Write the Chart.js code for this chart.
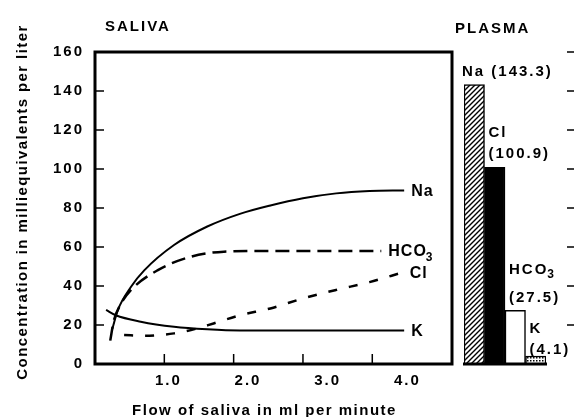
<!DOCTYPE html>
<html>
<head>
<meta charset="utf-8">
<style>
   html, body { margin: 0; padding: 0; background: #fff; }
   #wrap { position: relative; width: 574px; height: 417px; overflow: hidden; }
   #saliva { position: absolute; left: 0; top: 0; width: 460px; height: 417px; }
   #plasma { position: absolute; left: 455px; top: 0; width: 119px; height: 417px; }
</style>
</head>
<body>
<div id="wrap">
   <canvas id="saliva" width="460" height="417"></canvas>
   <canvas id="plasma" width="119" height="417"></canvas>
</div>
<script src="https://cdn.jsdelivr.net/npm/chart.js@4.4.0/dist/chart.umd.min.js"></script>
<script>
const FONT = '"Liberation Sans", Arial, Helvetica, sans-serif';

/* Saliva: concentration (mEq/l) against flow (ml/min) */
const naX = [0.25, 0.33, 0.52, 0.71, 1.14, 1.62, 2.09, 2.53, 3.0, 3.48, 3.96, 4.46];
const naY = [18, 27.7, 39.6, 48, 61, 70.5, 77, 81.3, 85, 87.5, 88.7, 89];

const hco3X = [0.22, 0.27, 0.36, 0.52, 0.9, 1.38, 1.86, 2.53, 3.2, 4.13];
const hco3Y = [12, 22, 30, 38, 48, 55, 57.6, 58, 58, 58];

const clX = [0.42, 0.71, 1.14, 1.45, 1.71, 2.09, 2.53, 3.0, 3.48, 3.96, 4.44];
const clY = [14.9, 14.5, 15.7, 18, 20.8, 25, 28.5, 33.6, 38, 42, 47];

const kX = [0.16, 0.3, 0.66, 1.14, 1.62, 2.09, 2.53, 3.5, 4.46];
const kY = [27.7, 25, 21.7, 19.1, 17.8, 17.2, 17.2, 17.2, 17.2];

const salivaNames = ['Na', 'HCO3', 'Cl', 'K'];

const yTickValues = [0, 20, 40, 60, 80, 100, 120, 140, 160];
const xTickValues = [1, 2, 3, 4];
const xTickLabels = ['1.0', '2.0', '3.0', '4.0'];

/* Plasma */
const plasmaIons = ['Na', 'Cl', 'HCO3', 'K'];
const plasmaValues = [143.3, 100.9, 27.5, 4.1];


function toPoints(xs, ys) {
   return xs.map((x, i) => ({x: x, y: ys[i]}));
}

// Ion name, a trailing digit is drawn as subscript (HCO3)
function drawIon(ctx, name, x, y, size) {
   var m = name.match(/^(.*?)(\d*)$/);
   ctx.font = `bold ${size}px ${FONT}`;
   ctx.fillText(m[1], x, y);
   if (m[2]) {
      var w = ctx.measureText(m[1]).width;
      ctx.font = `bold ${Math.round(size * 0.78)}px ${FONT}`;
      ctx.fillText(m[2], x + w - 1, y + size * 0.38);
   }
}

function makeHatch() {
   var c = document.createElement('canvas');
   c.width = 5; c.height = 5;
   var g = c.getContext('2d');
   g.fillStyle = '#fff';
   g.fillRect(0, 0, 5, 5);
   g.strokeStyle = '#000';
   g.lineWidth = 1.4;
   g.beginPath();
   g.moveTo(-1, 6); g.lineTo(6, -1);
   g.moveTo(-1, 1); g.lineTo(1, -1);
   g.moveTo(4, 6); g.lineTo(6, 4);
   g.stroke();
   return g.createPattern(c, 'repeat');
}

function makeDots() {
   var c = document.createElement('canvas');
   c.width = 3; c.height = 3;
   var g = c.getContext('2d');
   g.fillStyle = '#fff';
   g.fillRect(0, 0, 3, 3);
   g.fillStyle = '#000';
   g.fillRect(0, 0, 1.5, 1.5);
   return g.createPattern(c, 'repeat');
}

const salivaDecor = {
   id: 'salivaDecor',
   beforeDraw(chart) {
      // wide spacing of the original lettering, used by the tick labels too
      chart.ctx.letterSpacing = '2px';
   },
   afterDraw(chart) {
      var ctx = chart.ctx;
      var a = chart.chartArea;
      var xs = chart.scales.x, ys = chart.scales.y;
      ctx.save();
      ctx.strokeStyle = '#000';
      ctx.fillStyle = '#000';

      // frame
      ctx.lineWidth = 3;
      ctx.strokeRect(a.left, a.top, a.right - a.left, a.bottom - a.top);

      // inward tick marks
      ctx.lineWidth = 1.5;
      ctx.beginPath();
      yTickValues.forEach(v => {
         var py = ys.getPixelForValue(v);
         ctx.moveTo(a.left, py); ctx.lineTo(a.left + 9, py);
      });
      xTickValues.forEach(v => {
         var px = xs.getPixelForValue(v);
         ctx.moveTo(px, a.bottom); ctx.lineTo(px, a.bottom - 10);
      });
      ctx.stroke();

      // names at the end of each curve
      ctx.letterSpacing = '1px';
      ctx.textBaseline = 'middle';
      ctx.textAlign = 'left';
      chart.data.datasets.forEach((ds, i) => {
         var pts = chart.getDatasetMeta(i).data;
         var last = pts[pts.length - 1];
         drawIon(ctx, salivaNames[i], last.x + 7, last.y + 1, 16);
      });

      // title
      ctx.letterSpacing = '2px';
      ctx.font = `bold 15px ${FONT}`;
      ctx.fillText('SALIVA', a.left + 10, 27);

      // axis titles
      ctx.textAlign = 'center';
      ctx.textBaseline = 'alphabetic';
      ctx.letterSpacing = '1.5px';
      ctx.fillText('Flow of saliva in ml per minute', (a.left + a.right) / 2 - 9, 415);
      ctx.letterSpacing = '1.4px';
      ctx.translate(27, (a.top + a.bottom) / 2 - 6);
      ctx.rotate(-Math.PI / 2);
      ctx.fillText('Concentration in milliequivalents per liter', 0, 0);
      ctx.restore();
      ctx.letterSpacing = '0px';
   }
};

const plasmaDecor = {
   id: 'plasmaDecor',
   afterDraw(chart) {
      var ctx = chart.ctx;
      var a = chart.chartArea;
      var ys = chart.scales.y;
      ctx.save();
      ctx.strokeStyle = '#000';
      ctx.fillStyle = '#000';

      // base line under the bars
      ctx.lineWidth = 3;
      ctx.beginPath();
      ctx.moveTo(a.left - 1, a.bottom);
      ctx.lineTo(a.right + 1, a.bottom);
      ctx.stroke();

      // tick marks on the right edge
      ctx.lineWidth = 1.5;
      ctx.beginPath();
      yTickValues.filter(v => v > 0).forEach(v => {
         var py = ys.getPixelForValue(v);
         ctx.moveTo(chart.width - 7, py); ctx.lineTo(chart.width, py);
      });
      ctx.stroke();

      // labels of the bars
      ctx.letterSpacing = '2px';
      ctx.textBaseline = 'middle';
      ctx.textAlign = 'left';
      var bars = chart.getDatasetMeta(0).data;
      bars.forEach((bar, i) => {
         var left = bar.x - bar.width / 2;
         var value = '(' + plasmaValues[i].toFixed(1) + ')';
         if (i == 0) {
            ctx.font = `bold 15px ${FONT}`;
            ctx.fillText(plasmaIons[i] + ' ' + value, left - 2, bar.y - 13);
            return;
         }
         var valueY = (a.bottom - bar.y < 20) ? a.bottom - 14 : bar.y - 13;
         var nameY = valueY - 21 - (/\d$/.test(plasmaIons[i]) ? 7 : 0);
         drawIon(ctx, plasmaIons[i], left + 4, nameY, 15);
         ctx.font = `bold 15px ${FONT}`;
         ctx.fillText(value, left + 4, valueY);
      });

      // title
      ctx.font = `bold 15px ${FONT}`;
      ctx.fillText('PLASMA', 0, 29);
      ctx.restore();
      ctx.letterSpacing = '0px';
   }
};

const tickFont = {family: FONT, size: 15, weight: 'bold'};

new Chart(document.getElementById('saliva'), {
   type: 'line',
   data: {
      datasets: [
         {label: 'Na', data: toPoints(naX, naY), borderColor: '#000', borderWidth: 2},
         {label: 'HCO3', data: toPoints(hco3X, hco3Y), borderColor: '#000', borderWidth: 2.5, borderDash: [14, 7]},
         {label: 'Cl', data: toPoints(clX, clY), borderColor: '#000', borderWidth: 2.5, borderDash: [9, 12]},
         {label: 'K', data: toPoints(kX, kY), borderColor: '#000', borderWidth: 2}
      ]
   },
   options: {
      responsive: false,
      animation: false,
      events: [],
      elements: {
         point: {radius: 0},
         line: {cubicInterpolationMode: 'monotone', fill: false}
      },
      layout: {padding: {top: 52, right: 8, left: 0, bottom: 0}},
      plugins: {legend: {display: false}, tooltip: {enabled: false}},
      scales: {
         // data axis, its labels are drawn by the axis below
         x: {
            type: 'linear',
            min: 0,
            max: 5.15,
            grid: {display: false, drawTicks: false},
            border: {display: false},
            ticks: {display: false},
            afterFit: s => { s.height = 0; }
         },
         // in the printed figure the labels drift right of their tick marks
         xLabels: {
            type: 'linear',
            position: 'bottom',
            min: 0.08,
            max: 4.56,
            grid: {display: false, drawTicks: false},
            border: {display: false},
            afterBuildTicks: s => { s.ticks = xTickValues.map(v => ({value: v})); },
            afterFit: s => { s.height = 53; },
            ticks: {
               color: '#000', font: tickFont, padding: 8, maxRotation: 0, autoSkip: false,
               callback: v => xTickLabels[xTickValues.indexOf(v)]
            }
         },
         y: {
            min: 0,
            max: 160,
            grid: {display: false, drawTicks: false},
            border: {display: false},
            afterBuildTicks: s => { s.ticks = yTickValues.map(v => ({value: v})); },
            afterFit: s => { s.width = 95; },
            ticks: {color: '#000', font: tickFont, padding: 11, callback: v => String(v)}
         }
      }
   },
   plugins: [salivaDecor]
});

new Chart(document.getElementById('plasma'), {
   type: 'bar',
   data: {
      labels: plasmaIons,
      datasets: [{
         data: plasmaValues,
         backgroundColor: [makeHatch(), '#000', '#fff', makeDots()],
         borderColor: '#000',
         borderWidth: 1.5,
         borderSkipped: 'bottom',
         categoryPercentage: 1,
         barPercentage: 1
      }]
   },
   options: {
      responsive: false,
      animation: false,
      events: [],
      layout: {padding: {left: 9, right: 28, top: 52, bottom: 53}},
      plugins: {legend: {display: false}, tooltip: {enabled: false}},
      scales: {
         x: {display: false},
         y: {display: false, min: 0, max: 160}
      }
   },
   plugins: [plasmaDecor]
});
</script>
</body>
</html>
